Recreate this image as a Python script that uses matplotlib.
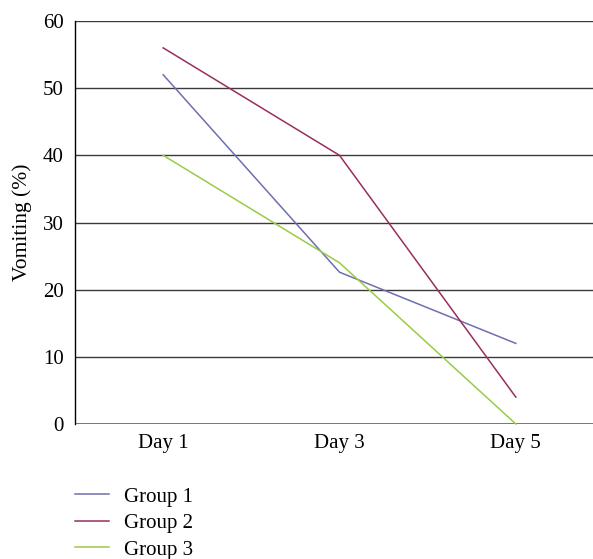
import matplotlib
matplotlib.use("Agg")
import matplotlib.pyplot as plt

days = ["Day 1", "Day 3", "Day 5"]
group1 = [52, 22.6, 12]
group2 = [56, 40, 4]
group3 = [40, 24, 0]
series_names = ["Group 1", "Group 2", "Group 3"]
colors = ["#6e6eb0", "#9a2d60", "#9acb46"]

plt.rcParams['font.family'] = ['Liberation Serif', 'DejaVu Serif']
FS = 15

fig = plt.figure(figsize=(5.93, 5.59), dpi=100)
W, H = 593, 559
ax = fig.add_axes([75 / W, (H - 424) / H, (604 - 75) / W, (424 - 21) / H])

x = range(len(days))
for vals, name, c in zip([group1, group2, group3], series_names, colors):
    ax.plot(x, vals, color=c, lw=1.1, label=name, clip_on=False)

ax.set_xlim(-0.5, 2.5)
ax.set_ylim(0, 60)
ax.set_yticks(range(0, 61, 10))
ax.set_xticks(list(x))
ax.set_xticklabels(days)
for yv in range(10, 61, 10):
    ax.axhline(yv, color="#3a3a3a", lw=1.0, zorder=0)
ax.axhline(0, color="#505050", lw=1.8, zorder=0)

for s in ["top", "right", "bottom"]:
    ax.spines[s].set_visible(False)
ax.spines["left"].set_color("black")
ax.spines["left"].set_linewidth(1.0)
ax.tick_params(axis="both", length=0, labelsize=FS, colors="black")
ax.tick_params(axis="y", pad=8)
ax.tick_params(axis="x", pad=7)
ax.set_ylabel("Vomiting (%)", fontsize=15.5, labelpad=8)

leg = fig.legend(loc="upper left", bbox_to_anchor=(75 / W, (H - 487) / H),
                 frameon=False, fontsize=FS, handlelength=1.65,
                 handletextpad=0.68, labelspacing=0.33, borderaxespad=0,
                 borderpad=0)

fig.savefig("out.png", dpi=100)
